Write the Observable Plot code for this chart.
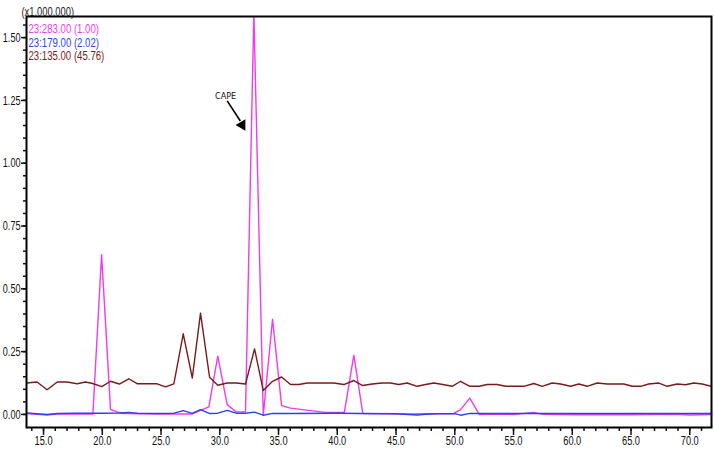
<!DOCTYPE html>
<html>
<head>
<meta charset="utf-8">
<script src="https://cdn.jsdelivr.net/npm/d3@7"></script>
<script src="https://cdn.jsdelivr.net/npm/@observablehq/plot@0.6"></script>
<style>
  html, body { margin: 0; padding: 0; background: #fff; }
  #chart svg { display: block; }
</style>
</head>
<body>
<div id="chart"></div>
<script>
// ---- data (retention time in min, intensity in x1,000,000) ----
const magentaTime = [13.55, 15.3, 16.2, 17.8, 19.2, 19.94, 20.7, 21.55, 23.0, 25.0, 27.65, 29.07, 29.83, 30.63, 31.4, 32.19, 32.9, 33.7, 34.49, 35.26, 36.02, 37.72, 39.0, 40.6, 41.41, 42.17, 44.0, 46.0, 48.0, 49.9, 50.49, 51.28, 52.08, 53.0, 55.0, 56.7, 57.4, 60.0, 65.0, 68.9, 70.0, 71.85];
const magentaValue = [0.004, -0.002, 0.002, 0.002, 0.002, 0.636, 0.02, 0.005, 0.003, 0.002, 0.002, 0.03, 0.232, 0.039, 0.01, 0.01, 1.6, -0.004, 0.379, 0.035, 0.025, 0.015, 0.008, 0.008, 0.236, 0.004, 0.003, 0.002, 0.003, 0.004, 0.019, 0.065, 0.0, 0.001, 0.0, 0.008, 0.001, -0.001, -0.001, 0.001, -0.002, 0.0];

const blueTime = [13.55, 15.3, 16.2, 17.8, 19.9, 21.5, 22.26, 23.0, 24.7, 26.1, 26.9, 27.65, 28.36, 29.1, 29.83, 30.63, 31.4, 32.19, 32.96, 33.7, 34.5, 36.0, 40.0, 42.0, 45.0, 46.8, 47.5, 48.5, 50.0, 50.5, 51.3, 53.0, 60.0, 65.0, 71.85];
const blueValue = [0.006, 0.0, 0.004, 0.005, 0.005, 0.006, 0.008, 0.005, 0.004, 0.005, 0.015, 0.004, 0.019, 0.004, 0.005, 0.016, 0.005, 0.005, 0.009, -0.003, 0.004, 0.004, 0.005, 0.004, 0.003, -0.002, 0.001, 0.003, 0.003, -0.003, 0.004, 0.004, 0.004, 0.004, 0.004];

const brownTime = [13.55, 14.45, 15.3, 16.17, 17.0, 17.87, 18.57, 19.1, 19.96, 20.7, 21.45, 22.26, 23.0, 23.82, 24.67, 25.38, 26.09, 26.89, 27.66, 28.36, 29.13, 29.83, 30.63, 31.4, 32.19, 32.96, 33.7, 34.49, 35.26, 36.02, 36.73, 37.44, 38.6, 39.7, 40.56, 41.41, 42.17, 42.97, 43.82, 44.53, 45.24, 45.95, 46.8, 47.51, 48.22, 48.98, 49.78, 50.49, 51.28, 52.08, 52.76, 53.61, 54.32, 55.03, 55.88, 56.73, 57.44, 58.29, 59.0, 59.85, 60.56, 61.27, 62.12, 62.97, 63.7, 64.39, 65.1, 65.81, 66.5, 67.37, 68.08, 68.93, 69.64, 70.34, 71.06, 71.85];
const brownValue = [0.125, 0.129, 0.098, 0.129, 0.129, 0.122, 0.129, 0.124, 0.111, 0.132, 0.121, 0.142, 0.122, 0.122, 0.122, 0.11, 0.122, 0.321, 0.145, 0.403, 0.148, 0.116, 0.125, 0.125, 0.121, 0.261, 0.095, 0.132, 0.149, 0.119, 0.119, 0.125, 0.125, 0.125, 0.119, 0.135, 0.115, 0.121, 0.125, 0.125, 0.119, 0.125, 0.112, 0.119, 0.125, 0.119, 0.112, 0.132, 0.112, 0.112, 0.119, 0.119, 0.112, 0.112, 0.112, 0.123, 0.112, 0.125, 0.121, 0.112, 0.121, 0.112, 0.125, 0.121, 0.121, 0.121, 0.112, 0.112, 0.121, 0.125, 0.112, 0.121, 0.118, 0.125, 0.121, 0.112];

const legendLabels = ["23:283.00 (1.00)", "23:179.00 (2.02)", "23:135.00 (45.76)"];
const seriesColors = ["#ee3cee", "#2f3ff0", "#7a1a1a"];
const scaleNote = "(x1,000,000)";

const xMajorTicks = [15, 20, 25, 30, 35, 40, 45, 50, 55, 60, 65, 70];
const yMajorTicks = [0, 0.25, 0.5, 0.75, 1.0, 1.25, 1.5];

const annotationText = ["CAPE"];
const annotationTextPos = [{x: 30.49, y: 1.265}];
const arrowShaft = [{x1: 30.63, y1: 1.248, x2: 31.75, y2: 1.168}];
const arrowHead = [{x: 31.9, y: 1.152}];

// ---- build ----
const toRows = (t, v) => t.map((d, i) => ({t: d, v: v[i]}));
const magenta = toRows(magentaTime, magentaValue);
const blue = toRows(blueTime, blueValue);
const brown = toRows(brownTime, brownValue);

const xMinorTicks = d3.range(14, 72, 1);
const yMinorTicks = d3.range(0, 32).map(i => +(i * 0.05).toFixed(2));

const font = "'Liberation Sans', Arial, sans-serif";

const chart = Plot.plot({
  width: 714,
  height: 450,
  marginLeft: 26,
  marginRight: 3,
  marginTop: 16,
  marginBottom: 23,
  style: {fontFamily: font, fontSize: "12px", background: "white", color: "#111"},
  x: {domain: [13.55, 71.85]},
  y: {domain: [-0.052, 1.584]},
  marks: [
    Plot.axisX({ticks: xMinorTicks, tickSize: 4, strokeWidth: 1.5, tickFormat: () => "", label: null}),
    Plot.axisX({ticks: xMajorTicks, tickSize: 8, tickPadding: 1, strokeWidth: 1.5, tickFormat: d3.format(".1f"), label: null, fontSize: 12.5}),
    Plot.axisY({ticks: yMinorTicks, tickSize: 3, strokeWidth: 1.5, tickFormat: () => "", label: null}),
    Plot.axisY({ticks: yMajorTicks, tickSize: 5, tickPadding: 1, strokeWidth: 1.5, tickFormat: d3.format(".2f"), label: null, fontSize: 13}),
    Plot.line(magenta, {x: "t", y: "v", stroke: seriesColors[0], strokeWidth: 1.4, clip: true}),
    Plot.line(brown, {x: "t", y: "v", stroke: seriesColors[2], strokeWidth: 1.4, clip: true}),
    Plot.line(blue, {x: "t", y: "v", stroke: seriesColors[1], strokeWidth: 1.4, clip: true}),
    Plot.frame({stroke: "black", strokeWidth: 2}),
    ...legendLabels.map((lab, i) => Plot.text([lab], {
      text: d => d, frameAnchor: "top-left", dx: 2, dy: 8 + 13.5 * i,
      textAnchor: "start", fill: seriesColors[i], fontSize: 12
    })),
    Plot.text([scaleNote], {text: d => d, frameAnchor: "top-left", dx: -5, dy: -9, textAnchor: "start", fill: "#222", fontSize: 12}),
    Plot.text(annotationTextPos, {x: "x", y: "y", text: (d, i) => annotationText[i], fontSize: 8, fontFamily: "'DejaVu Sans', sans-serif", fill: "#111"}),
    Plot.link(arrowShaft, {x1: "x1", y1: "y1", x2: "x2", y2: "y2", stroke: "black", strokeWidth: 1.6}),
    Plot.dot(arrowHead, {x: "x", y: "y", symbol: "triangle", r: 4.2, fill: "black", stroke: "none", rotate: 150})
  ]
});

document.getElementById("chart").appendChild(chart);

// condense the text glyphs to mimic the narrow instrument-software font
d3.select(chart).selectAll("text").each(function () {
  const s = (this.textContent || "").trim();
  let f = null;
  if (/^\d+\.\d$/.test(s)) f = 0.74;          // x tick labels
  else if (/^\d\.\d\d$/.test(s)) f = 0.7;     // y tick labels
  else if (s.startsWith("23:")) f = 0.8;      // legend
  else if (s.startsWith("(x")) f = 0.78;      // scale note
  if (f && this.getComputedTextLength) {
    const L = this.getComputedTextLength();
    if (L > 0) {
      this.setAttribute("textLength", (L * f).toFixed(1));
      this.setAttribute("lengthAdjust", "spacingAndGlyphs");
    }
  }
});
</script>
</body>
</html>
